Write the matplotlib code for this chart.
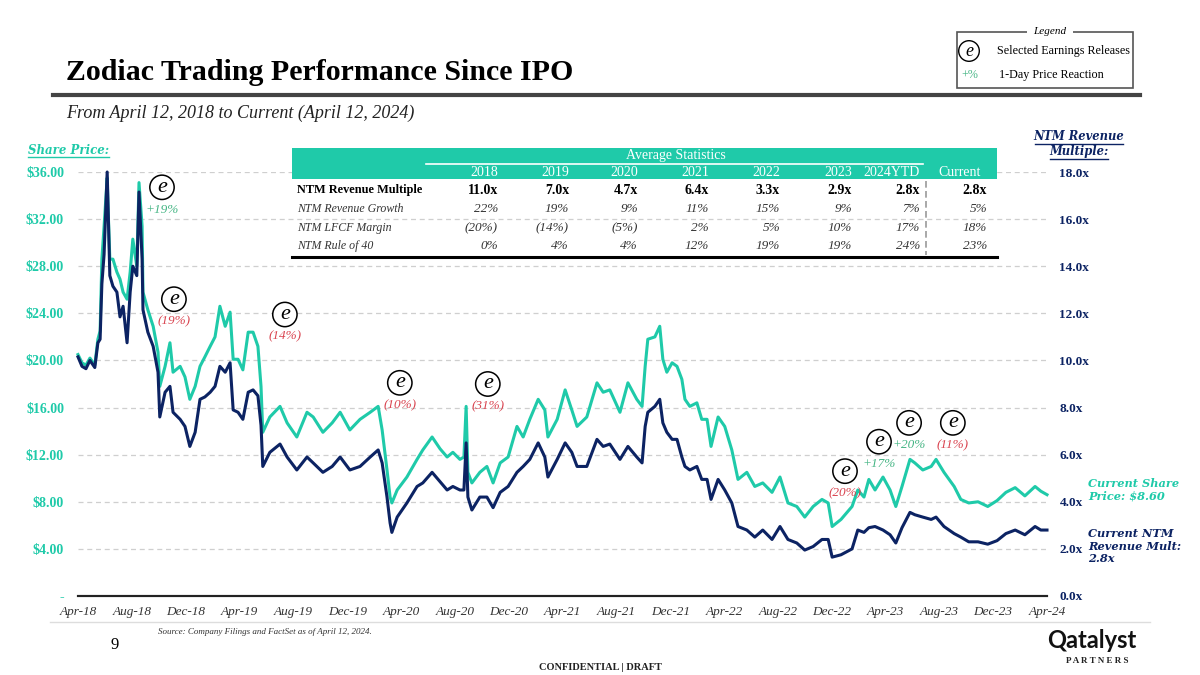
import pandas as pd
import matplotlib.pyplot as plt
import matplotlib.dates as mdates
from matplotlib.lines import Line2D
from matplotlib.patches import Rectangle

# ---- data ----
dates = [
    "2018-04-12", "2018-04-21", "2018-04-30", "2018-05-09", "2018-05-20", "2018-05-27",
    "2018-06-01", "2018-06-05", "2018-06-10", "2018-06-17", "2018-06-19", "2018-06-23",
    "2018-06-30", "2018-07-09", "2018-07-16", "2018-07-23", "2018-08-01", "2018-08-08",
    "2018-08-14", "2018-08-23", "2018-08-28", "2018-09-04", "2018-09-06", "2018-09-17",
    "2018-09-29", "2018-10-10", "2018-10-14", "2018-10-26", "2018-11-06", "2018-11-13",
    "2018-11-29", "2018-12-10", "2018-12-21", "2019-01-02", "2019-01-13", "2019-01-24",
    "2019-02-05", "2019-02-16", "2019-02-27", "2019-03-11", "2019-03-22", "2019-03-29",
    "2019-04-09", "2019-04-20", "2019-05-02", "2019-05-13", "2019-05-24", "2019-05-31",
    "2019-06-04", "2019-06-20", "2019-07-13", "2019-07-29", "2019-08-20", "2019-09-12",
    "2019-09-26", "2019-10-18", "2019-11-08", "2019-11-26", "2019-12-18", "2020-01-10",
    "2020-02-02", "2020-02-20", "2020-02-29", "2020-03-11", "2020-03-18", "2020-03-22",
    "2020-04-03", "2020-04-25", "2020-05-18", "2020-05-31", "2020-06-21", "2020-07-09",
    "2020-07-25", "2020-08-07", "2020-08-23", "2020-09-01", "2020-09-06", "2020-09-10",
    "2020-09-19", "2020-10-07", "2020-10-23", "2020-11-06", "2020-11-22", "2020-12-10",
    "2020-12-30", "2021-01-13", "2021-01-28", "2021-02-16", "2021-03-03", "2021-03-10",
    "2021-03-31", "2021-04-18", "2021-05-03", "2021-05-15", "2021-06-06", "2021-06-29",
    "2021-07-13", "2021-07-28", "2021-08-20", "2021-09-07", "2021-09-27", "2021-10-09",
    "2021-10-16", "2021-10-22", "2021-11-07", "2021-11-18", "2021-11-25", "2021-12-04",
    "2021-12-16", "2021-12-27", "2022-01-07", "2022-01-14", "2022-01-25", "2022-02-10",
    "2022-02-21", "2022-03-05", "2022-03-14", "2022-03-30", "2022-04-14", "2022-04-30",
    "2022-05-14", "2022-06-03", "2022-06-21", "2022-07-09", "2022-07-30", "2022-08-17",
    "2022-09-04", "2022-09-24", "2022-10-12", "2022-10-31", "2022-11-20", "2022-12-04",
    "2022-12-13", "2023-01-02", "2023-01-27", "2023-02-09", "2023-02-23", "2023-03-06",
    "2023-03-20", "2023-04-07", "2023-04-23", "2023-05-06", "2023-05-20", "2023-06-07",
    "2023-06-18", "2023-07-06", "2023-07-25", "2023-08-05", "2023-08-23", "2023-09-15",
    "2023-09-30", "2023-10-18", "2023-11-08", "2023-11-30", "2023-12-21", "2024-01-10",
    "2024-01-31", "2024-02-22", "2024-03-16", "2024-03-29", "2024-04-12",
]

share_price = [
    20.5, 19.8, 19.6, 20.2, 19.6, 21.8, 22.5, 28.6, 31.4, 35.5, 33.0, 28.6,
    28.6, 27.5, 26.9, 25.8, 25.2, 27.5, 30.3, 28.0, 35.1, 31.4, 25.8, 24.3,
    22.9, 20.7, 17.8, 19.5, 21.5, 19.0, 19.5, 18.6, 16.7, 17.8, 19.5, 20.3,
    21.2, 22.0, 24.6, 22.9, 24.1, 20.1, 20.1, 19.2, 22.4, 22.4, 21.2, 17.8,
    13.9, 15.2, 16.1, 14.7, 13.5, 15.6, 15.2, 13.9, 14.7, 15.6, 14.1, 15.0,
    15.6, 16.1, 14.1, 10.7, 8.4, 7.9, 9.0, 10.1, 11.6, 12.4, 13.5, 12.5,
    11.8, 12.2, 11.6, 11.8, 16.1, 10.5, 9.6, 10.5, 11.0, 9.6, 11.3, 11.8,
    14.4, 13.5, 15.0, 16.7, 15.8, 13.5, 15.0, 17.5, 15.8, 14.4, 15.2, 18.1,
    17.3, 17.5, 15.6, 18.1, 16.7, 16.1, 19.5, 21.8, 22.0, 22.9, 20.1, 19.0,
    19.8, 19.5, 18.4, 16.7, 16.1, 16.4, 15.0, 15.0, 12.7, 15.2, 14.4, 12.4,
    9.9, 10.5, 9.3, 9.6, 8.8, 10.1, 7.9, 7.6, 6.7, 7.6, 8.2, 7.9,
    5.9, 6.5, 7.6, 9.0, 8.4, 9.9, 9.0, 10.1, 9.0, 7.6, 9.3, 11.6,
    11.3, 10.7, 11.0, 11.6, 10.5, 9.3, 8.2, 7.9, 8.0, 7.6, 8.1, 8.8,
    9.2, 8.5, 9.3, 8.9, 8.6,
]

ntm_multiple = [
    10.15, 9.75, 9.65, 10.0, 9.7, 10.75, 10.9, 13.25, 14.5, 18.0, 16.5, 13.6,
    13.15, 12.9, 11.85, 12.3, 10.75, 12.9, 14.0, 13.6, 17.15, 14.3, 12.15, 11.2,
    10.6, 9.5, 7.6, 8.65, 8.9, 7.8, 7.5, 7.2, 6.35, 6.95, 8.35, 8.45,
    8.65, 8.9, 9.75, 9.5, 9.9, 7.9, 7.8, 7.5, 8.65, 8.75, 8.5, 7.25,
    5.5, 6.1, 6.45, 5.9, 5.35, 5.9, 5.65, 5.25, 5.5, 5.9, 5.35, 5.5,
    5.9, 6.2, 5.65, 4.2, 3.1, 2.7, 3.35, 3.95, 4.65, 4.8, 5.25, 4.85,
    4.5, 4.65, 4.5, 4.5, 6.5, 4.2, 3.65, 4.2, 4.2, 3.75, 4.4, 4.65,
    5.25, 5.5, 5.8, 6.5, 5.9, 5.05, 5.8, 6.5, 6.1, 5.5, 5.5, 6.65,
    6.35, 6.45, 5.8, 6.35, 5.9, 5.65, 7.2, 7.8, 8.05, 8.35, 7.35, 6.95,
    6.65, 6.65, 5.9, 5.5, 5.35, 5.5, 4.95, 4.95, 4.1, 4.95, 4.5, 3.95,
    2.95, 2.8, 2.5, 2.8, 2.4, 2.95, 2.4, 2.25, 1.95, 2.1, 2.4, 2.4,
    1.65, 1.75, 2.0, 2.8, 2.7, 2.9, 2.95, 2.8, 2.6, 2.25, 2.9, 3.55,
    3.45, 3.35, 3.25, 3.35, 2.95, 2.65, 2.5, 2.3, 2.3, 2.2, 2.35, 2.65,
    2.8, 2.6, 2.95, 2.8, 2.8,
]

# earnings releases: date, level on price axis, 1-day reaction
earn_dates = ["2018-10-19", "2018-11-15", "2019-07-24", "2020-04-09", "2020-10-25",
              "2023-01-11", "2023-03-29", "2023-06-05", "2023-09-12"]
earn_levels = [34.7, 25.2, 23.9, 18.1, 18.0, 10.6, 13.1, 14.7, 14.7]
earn_labels = ["+19%", "(19%)", "(14%)", "(10%)", "(31%)", "(20%)", "+17%", "+20%", "(11%)"]

# table of average statistics
col_headers = ["2018", "2019", "2020", "2021", "2022", "2023", "2024YTD", "Current"]
row_names = ["NTM Revenue Multiple", "NTM Revenue Growth", "NTM LFCF Margin", "NTM Rule of 40"]
rev_multiple = ["11.0x", "7.0x", "4.7x", "6.4x", "3.3x", "2.9x", "2.8x", "2.8x"]
rev_growth = ["22%", "19%", "9%", "11%", "15%", "9%", "7%", "5%"]
lfcf_margin = ["(20%)", "(14%)", "(5%)", "2%", "5%", "10%", "17%", "18%"]
rule_of_40 = ["0%", "4%", "4%", "12%", "19%", "19%", "24%", "23%"]

price_ticks = [0, 4, 8, 12, 16, 20, 24, 28, 32, 36]
mult_ticks = [0, 2, 4, 6, 8, 10, 12, 14, 16, 18]

TEAL = "#1fcaa9"
NAVY = "#0c2363"
GREEN = "#45b584"
RED = "#d9434f"
SERIF = "Liberation Serif"
BOOK = "DejaVu Serif"

W, H = 1200, 675


def fx(x):
    return x / W


def fy(y):
    return 1 - y / H


x = pd.to_datetime(dates)

fig = plt.figure(figsize=(12, 6.75), dpi=100)
ax = fig.add_axes([fx(78), fy(596), (1047 - 78) / W, (596 - 172) / H])
ax2 = ax.twinx()

ax.plot(x, share_price, color=TEAL, lw=2.2, zorder=3, clip_on=False, solid_joinstyle="round")
ax2.plot(x, ntm_multiple, color=NAVY, lw=2.2, zorder=3, clip_on=False, solid_joinstyle="round")

ax.set_xlim(pd.Timestamp("2018-04-12"), pd.Timestamp("2024-04-12"))
ax.set_ylim(0, 36)
ax2.set_ylim(0, 18)

xt = pd.date_range("2018-04-01", "2024-04-01", freq="4MS") + pd.Timedelta(days=11)
ax.set_xticks(xt)
ax.xaxis.set_major_formatter(mdates.DateFormatter("%b-%y"))
for lab in ax.get_xticklabels():
    lab.set_fontfamily(SERIF)
    lab.set_fontstyle("italic")
    lab.set_fontsize(9.5)
    lab.set_color("#333333")
ax.tick_params(axis="x", length=0, pad=7)

ax.set_yticks(price_ticks)
ax.set_yticklabels(["-" if v == 0 else f"${v:.2f}" for v in price_ticks],
                   fontfamily=SERIF, fontweight="bold", fontsize=10, color=TEAL)
ax.tick_params(axis="y", length=0, pad=10)
ax2.set_yticks(mult_ticks)
ax2.set_yticklabels([f"{v:.1f}x" for v in mult_ticks],
                    fontfamily=SERIF, fontweight="bold", fontsize=9.5, color=NAVY)
ax2.tick_params(axis="y", length=0, pad=9)

for v in price_ticks[1:]:
    ax.axhline(v, color="#cfcfcf", lw=0.9, ls=(0, (4, 3)), zorder=1)

for a in (ax, ax2):
    for s in ("top", "left", "right"):
        a.spines[s].set_visible(False)
    a.spines["bottom"].set_color("#222222")
    a.spines["bottom"].set_linewidth(1.5)

# earnings markers
for d, lvl, lab in zip(earn_dates, earn_levels, earn_labels):
    ax.text(pd.Timestamp(d), lvl, "e", fontfamily=SERIF, fontstyle="italic", fontsize=16,
            ha="center", va="center", zorder=6,
            bbox=dict(boxstyle="circle,pad=0.12", fc="white", ec="black", lw=1.1))
    col = GREEN if lab.startswith("+") else RED
    ax.annotate(lab, (pd.Timestamp(d), lvl), xytext=(0, -16), textcoords="offset points",
                ha="center", va="center", fontfamily=SERIF, fontstyle="italic",
                fontsize=9.5, color=col, zorder=6)

# ---- title block ----
fig.text(fx(66), fy(72), "Zodiac Trading Performance Since IPO", fontfamily=SERIF,
         fontweight="bold", fontsize=21.5, ha="left", va="center")
fig.add_artist(Line2D([fx(53), fx(1140)], [fy(95), fy(95)], color="#444444", lw=3))
fig.text(fx(66), fy(113), "From April 12, 2018 to Current (April 12, 2024)", fontfamily=SERIF,
         fontstyle="italic", fontsize=13, ha="left", va="center", color="#222222")

# legend box
fig.add_artist(Rectangle((fx(957), fy(88)), (1133 - 957) / W, (88 - 32) / H, fill=False,
                         ec="#555555", lw=1.2))
fig.add_artist(Rectangle((fx(1027), fy(38)), 46 / W, 12 / H, fc="white", ec="none"))
fig.text(fx(1050), fy(32), "Legend", fontfamily=SERIF, fontstyle="italic", fontsize=8,
         ha="center", va="center")
fig.text(fx(969), fy(51), "e", fontfamily=SERIF, fontstyle="italic", fontsize=13,
         ha="center", va="center",
         bbox=dict(boxstyle="circle,pad=0.1", fc="white", ec="black", lw=1.0))
fig.text(fx(997), fy(51), "Selected Earnings Releases", fontfamily=SERIF, fontsize=8.7,
         ha="left", va="center")
fig.text(fx(970), fy(75), "+%", fontfamily=SERIF, fontsize=8.7, color=GREEN,
         ha="center", va="center")
fig.text(fx(999), fy(75), "1-Day Price Reaction", fontfamily=SERIF, fontsize=8.7,
         ha="left", va="center")

# axis headers
fig.text(fx(28), fy(150), "Share Price:", fontfamily=BOOK, fontweight="bold",
         fontstyle="italic", fontsize=8.5, color=TEAL, ha="left", va="center")
fig.add_artist(Line2D([fx(28), fx(109)], [fy(157), fy(157)], color=TEAL, lw=1))
fig.text(fx(1079), fy(137), "NTM Revenue", fontfamily=BOOK, fontweight="bold",
         fontstyle="italic", fontsize=8.3, color=NAVY, ha="center", va="center")
fig.add_artist(Line2D([fx(1035), fx(1123)], [fy(144), fy(144)], color=NAVY, lw=1))
fig.text(fx(1079), fy(152), "Multiple:", fontfamily=BOOK, fontweight="bold",
         fontstyle="italic", fontsize=8.3, color=NAVY, ha="center", va="center")
fig.add_artist(Line2D([fx(1050), fx(1108)], [fy(159), fy(159)], color=NAVY, lw=1))

fig.text(fx(1088), fy(490), "Current Share\nPrice: $8.60", fontfamily=BOOK, fontweight="bold",
         fontstyle="italic", fontsize=8.2, color=TEAL, ha="left", va="center", linespacing=1.2)
fig.text(fx(1088), fy(546), "Current NTM\nRevenue Mult:\n2.8x", fontfamily=BOOK,
         fontweight="bold", fontstyle="italic", fontsize=8.2, color=NAVY, ha="left",
         va="center", linespacing=1.2)

# ---- statistics table ----
fig.add_artist(Rectangle((fx(292), fy(179)), (997 - 292) / W, (179 - 148) / H,
                         fc=TEAL, ec="none", zorder=5))
fig.text(fx(676), fy(156), "Average Statistics", fontfamily=SERIF, fontsize=10,
         color="white", ha="center", va="center", zorder=6)
fig.add_artist(Line2D([fx(426), fx(923)], [fy(164), fy(164)], color="white", lw=1.2, zorder=6))
col_right = [498, 569, 638, 709, 780, 852, 920, 987]
for i, h in enumerate(col_headers):
    if h == "Current":
        fig.text(fx(960), fy(172), h, fontfamily=SERIF, fontsize=10, color="white",
                 ha="center", va="center", zorder=6)
    else:
        fig.text(fx(col_right[i]), fy(172), h, fontfamily=SERIF, fontsize=10,
                 color="white", ha="right", va="center", zorder=6)

rows = [rev_multiple, rev_growth, lfcf_margin, rule_of_40]
row_y = [190, 209, 228, 246]
for r, (name, vals) in enumerate(zip(row_names, rows)):
    bold = r == 0
    kw = dict(fontfamily=SERIF, va="center",
              color="black" if bold else "#333333",
              fontweight="bold" if bold else "normal",
              fontstyle="normal" if bold else "italic")
    fig.text(fx(297), fy(row_y[r]), name, ha="left", fontsize=8.8 if bold else 8.6, **kw)
    for i, v in enumerate(vals):
        fig.text(fx(col_right[i]), fy(row_y[r]), v, ha="right",
                 fontsize=10 if bold else 9.5, **kw)
fig.add_artist(Line2D([fx(926), fx(926)], [fy(181), fy(255)], color="#999999", lw=1.2,
                      ls=(0, (4, 2))))
fig.add_artist(Line2D([fx(292), fx(997)], [fy(257), fy(257)], color="black", lw=2.2))

# ---- footer ----
fig.add_artist(Line2D([fx(50), fx(1150)], [fy(622), fy(622)], color="#dddddd", lw=1))
fig.text(fx(158), fy(632), "Source: Company Filings and FactSet as of April 12, 2024.",
         fontfamily=SERIF, fontstyle="italic", fontsize=6.5, color="#333333",
         ha="left", va="center")
fig.text(fx(115), fy(645), "9", fontfamily=SERIF, fontsize=12, ha="center", va="center")
fig.text(fx(600), fy(667), "CONFIDENTIAL | DRAFT", fontfamily=SERIF, fontweight="bold",
         fontsize=7.5, ha="center", va="center", color="#222222")
fig.text(fx(1092), fy(640), "Qatalyst", fontfamily="Lato", fontweight="bold", fontsize=17,
         ha="center", va="center", color="#111111")
fig.text(fx(1097), fy(661), "P A R T N E R S", fontfamily=SERIF, fontweight="bold",
         fontsize=6.5, ha="center", va="center", color="#222222")

fig.savefig("out.png", dpi=100)
